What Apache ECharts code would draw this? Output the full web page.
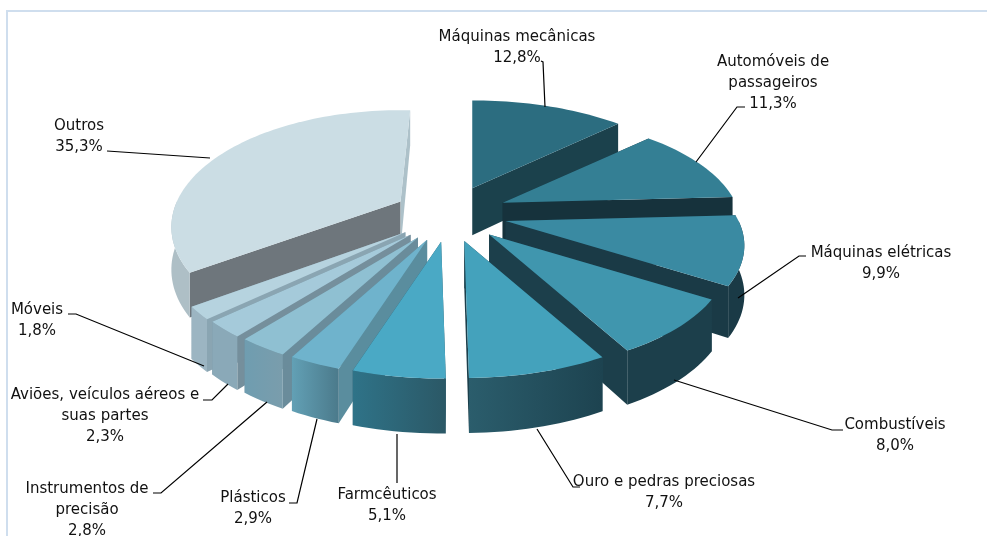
<!DOCTYPE html>
<html>
<head>
<meta charset="utf-8">
<style>
    html, body { margin: 0; padding: 0; background: #fff; }
    #main { width: 987px; height: 536px; }
</style>
<script src="https://cdn.jsdelivr.net/npm/echarts@6/dist/echarts.min.js"></script>
</head>
<body>
<div id="main"></div>
<script>
// dados
var categories = ['Máquinas mecânicas', 'Automóveis de\npassageiros', 'Máquinas elétricas', 'Combustíveis',
    'Ouro e pedras preciosas', 'Farmcêuticos', 'Plásticos', 'Instrumentos de\nprecisão',
    'Aviões, veículos aéreos e\nsuas partes', 'Móveis', 'Outros'];
var values = [12.8, 11.3, 9.9, 8.0, 7.7, 5.1, 2.9, 2.8, 2.3, 1.8, 35.3];

// cores: topo, parede (esq, dir), face inicial, face final
var topColors = ['#2c6d80', '#347f94', '#3a8aa2', '#4096ae', '#44a2bc', '#4aa9c5', '#6fb3cc', '#8fc0d2', '#a5cada', '#b6d3df', '#cbdde4'];
var wallLeft = ['#1b414c', '#16323c', '#1a3a46', '#1c3f4b', '#2b5d6c', '#2f7388', '#62a0b5', '#6f9db0', '#8aa9b8', '#9cb5c2', '#aebfc6'];
var wallRight = ['#1b414c', '#16323c', '#1a3a46', '#1c3f4b', '#1d4350', '#2b5866', '#4b7a8b', '#7a9dac', '#8aa9b8', '#9cb5c2', '#aebfc6'];
var startFace = ['#1b414c', '#16323c', '#1a3a46', '#1c3f4b', '#1f4a58', '#2b5866', '#5a8d9e', '#6a8c9b', '#758f9c', '#8aa5b2', '#6e767c'];
var endFace = ['#1b414c', '#16323c', '#1a3a46', '#1c3f4b', '#1c3f4b', '#2b5866', '#5a8d9e', '#6a8c9b', '#758f9c', '#8aa5b2', '#adc1c9'];

// posicao dos rotulos e linhas de chamada
var labelPos = [[517, 37], [773, 62], [881, 253], [895, 425], [664, 482], [387, 495], [253, 498], [87, 489], [105, 395], [37, 310], [79, 126]];
var leaders = [
    [[541, 61], [543, 62], [545, 107]],
    [[745, 107], [737, 107], [696, 162]],
    [[806, 256], [799, 256], [738, 298]],
    [[843, 430], [832, 430], [674, 380]],
    [[580, 487], [573, 487], [537, 429]],
    [[397, 483], [397, 434]],
    [[289, 503], [297, 503], [317, 419]],
    [[153, 493], [161, 493], [267, 402]],
    [[203, 400], [212, 400], [228, 384]],
    [[68, 314], [76, 314], [204, 366]],
    [[107, 151], [210, 158]]
];

var cx = 449.5, cy = 214;
var radiusX = 233, radiusY = 107;
var explodeX = 58, explodeY = 28;
var persp = 0.218;
var fontName = '"DejaVu Sans", sans-serif';

// a fatia Outros fica um pouco mais estreita e girada na figura
var widthScale = [1, 1, 1, 1, 1, 1, 1, 1, 1, 1, 0.96];
var heightScale = [1, 1, 1, 1, 1, 1, 1, 1, 1, 1, 1.04];
var wallScale = [1, 1, 1, 1, 1, 1, 1, 1, 1, 1, 0.86];
var shiftX = [0, 0, 0, 0, 0, 0, 0, 0, 0, 0, 3];
var turnDeg = [0, 0, 0, 0, 0, 0, 0, 0, 0, 0, 3];

var total = 0;
for (var i = 0; i < values.length; i++) total += values[i];

// angulos de cada fatia
var slices = [];
var acc = 0;
for (var i = 0; i < values.length; i++) {
    var a0 = acc / total * Math.PI * 2;
    acc += values[i];
    var a1 = acc / total * Math.PI * 2;
    var mid = (a0 + a1) / 2;
    var turn = turnDeg[i] * Math.PI / 180;
    slices.push({
        a0: a0 + turn, a1: a1 + turn,
        ax: cx + explodeX * Math.sin(mid) + shiftX[i],
        ay: cy - explodeY * Math.cos(mid),
        rx: radiusX * widthScale[i],
        ry: radiusY * heightScale[i],
        wall: wallScale[i],
        depth: -Math.cos(mid)
    });
}

// de tras para frente
var drawOrder = values.map(function (v, i) { return i; }).sort(function (p, q) {
    return slices[p].depth - slices[q].depth;
});

function rim(s, ang) {
    var u = Math.sin(ang), v = -Math.cos(ang);
    var k = 1 / (1 - persp * v);
    return {
        x: s.ax + s.rx * u * k,
        y: s.ay + s.ry * v * k,
        h: (48 + 7 * v) * s.wall
    };
}

function arcPoints(s, from, to) {
    var pts = [];
    var n = Math.max(2, Math.ceil((to - from) / 0.03));
    for (var j = 0; j <= n; j++) pts.push(rim(s, from + (to - from) * j / n));
    return pts;
}

function sideFace(s, ang, color) {
    var p = rim(s, ang);
    return {
        type: 'polygon',
        shape: { points: [[s.ax, s.ay], [p.x, p.y], [p.x, p.y + p.h], [s.ax, s.ay + 47]] },
        style: { fill: color }
    };
}

function renderSlice(params, api) {
    var idx = api.value(0);
    var s = slices[idx];
    var children = [];
    children.push(sideFace(s, s.a0, startFace[idx]));
    children.push(sideFace(s, s.a1, endFace[idx]));

    // parede externa, so a parte da frente
    var from = Math.max(s.a0, Math.PI / 2), to = Math.min(s.a1, Math.PI * 1.5);
    if (to > from) {
        var arc = arcPoints(s, from, to);
        var wall = [];
        arc.forEach(function (p) { wall.push([p.x, p.y]); });
        arc.slice().reverse().forEach(function (p) { wall.push([p.x, p.y + p.h]); });
        children.push({
            type: 'polygon',
            shape: { points: wall },
            style: {
                fill: new echarts.graphic.LinearGradient(0, 0, 1, 0, [
                    { offset: 0, color: wallLeft[idx] },
                    { offset: 1, color: wallRight[idx] }
                ])
            }
        });
    }

    var top = [[s.ax, s.ay]];
    arcPoints(s, s.a0, s.a1).forEach(function (p) { top.push([p.x, p.y]); });
    children.push({ type: 'polygon', shape: { points: top }, style: { fill: topColors[idx] } });
    return { type: 'group', children: children };
}

function renderLabel(params, api) {
    var idx = api.value(0);
    return {
        type: 'group',
        children: [
            {
                type: 'polyline',
                shape: { points: leaders[idx] },
                style: { stroke: '#000', lineWidth: 1.2, fill: null }
            },
            {
                type: 'text',
                x: labelPos[idx][0],
                y: labelPos[idx][1] - 10.5,
                style: {
                    text: categories[idx] + '\n' + values[idx].toFixed(1).replace('.', ',') + '%',
                    font: '15px ' + fontName,
                    lineHeight: 21,
                    fill: '#111',
                    align: 'center',
                    verticalAlign: 'top'
                }
            }
        ]
    };
}

var chart = echarts.init(document.getElementById('main'), null, { renderer: 'canvas' });
chart.setOption({
    animation: false,
    backgroundColor: '#fff',
    graphic: [
        { type: 'line', shape: { x1: 7, y1: 11, x2: 987, y2: 11 }, style: { stroke: '#cfdeee', lineWidth: 2 } },
        { type: 'line', shape: { x1: 7, y1: 10, x2: 7, y2: 536 }, style: { stroke: '#cfdeee', lineWidth: 2 } }
    ],
    series: [
        {
            type: 'custom',
            coordinateSystem: 'none',
            silent: true,
            renderItem: renderSlice,
            data: drawOrder.map(function (i) { return [i, values[i]]; })
        },
        {
            type: 'custom',
            coordinateSystem: 'none',
            silent: true,
            z: 3,
            renderItem: renderLabel,
            data: values.map(function (v, i) { return [i, v]; })
        }
    ]
});
</script>
</body>
</html>
